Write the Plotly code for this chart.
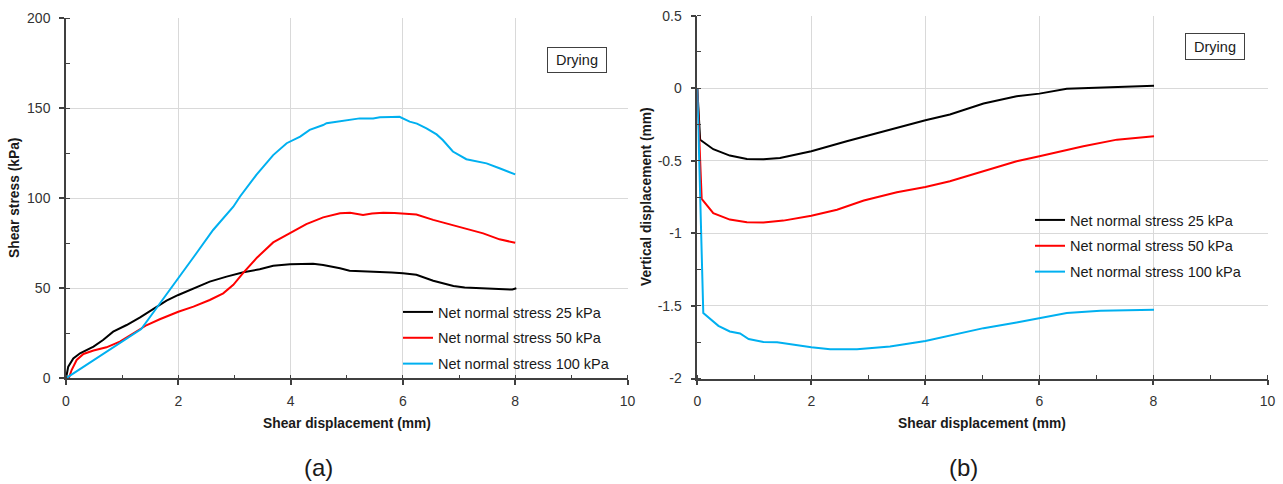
import plotly.graph_objects as go

# ---- panel (a): shear stress vs shear displacement ----
disp_a_25 = [0, 0.04, 0.13, 0.25, 0.49, 0.66, 0.84, 1.08, 1.32, 1.55, 1.79, 2.0, 2.27, 2.56,
             2.86, 3.16, 3.45, 3.69, 3.99, 4.23, 4.4, 4.58, 4.76, 4.88, 5.05, 5.3, 5.53, 5.8,
             6.0, 6.24, 6.54, 6.9, 7.1, 7.43, 7.7, 7.95, 8.02]
stress_25 = [0, 6.5, 11, 13.9, 17.6, 21.3, 25.9, 29.6, 33.9, 38.3, 43.1, 46.3, 50, 53.7,
             56.5, 58.9, 60.6, 62.5, 63.3, 63.7, 63.6, 63, 62, 61.1, 59.8, 59.5, 59.4, 58.8,
             58.3, 57.5, 54.2, 51.3, 50.4, 50, 49.7, 49.3, 50]

disp_a_50 = [0.05, 0.1, 0.19, 0.31, 0.49, 0.72, 0.96, 1.2, 1.44, 1.67, 2.0, 2.27, 2.56, 2.8,
             2.98, 3.16, 3.4, 3.69, 3.99, 4.28, 4.58, 4.88, 5.06, 5.29, 5.45, 5.65, 5.85,
             6.0, 6.24, 6.54, 6.96, 7.2, 7.43, 7.72, 8.0]
stress_50 = [0, 4.6, 10.2, 13.5, 15.4, 17.2, 20.4, 25.0, 29.6, 32.8, 37, 39.8, 43.5, 47.2,
             51.9, 58.7, 67.0, 75.5, 80.8, 85.7, 89.4, 91.7, 92, 90.7, 91.5, 92, 91.8,
             91.5, 91, 88, 84.6, 82.5, 80.5, 77.2, 75.3]

disp_a_100 = [0, 1.34, 1.6, 2.0, 2.3, 2.62, 2.98, 3.1, 3.39, 3.69, 3.93, 4.17, 4.34, 4.58,
              4.64, 4.76, 5.0, 5.23, 5.47, 5.59, 5.8, 5.94, 6.12, 6.25, 6.42, 6.6, 6.71,
              6.89, 7.13, 7.49, 7.72, 7.9, 8.0]
stress_100 = [0, 27.4, 38.5, 56, 68.5, 82.4, 95.3, 101, 113, 124, 130.6, 134.3, 138, 140.7,
              141.7, 142.3, 143.5, 144.4, 144.4, 145, 145.2, 145.3, 142.6, 141.5, 138.9,
              135.5, 132.4, 126, 121.7, 119.4, 116.7, 114.5, 113.3]

# ---- panel (b): vertical displacement vs shear displacement ----
disp_b_25 = [0, 0.05, 0.28, 0.57, 0.87, 1.16, 1.45, 2.0, 2.62, 3.2, 4.0, 4.43, 4.78, 5.02,
             5.6, 6.0, 6.48, 7.07, 7.5, 8.01]
vert_25 = [0, -0.355, -0.42, -0.464, -0.487, -0.49, -0.48, -0.434, -0.365, -0.303, -0.22,
           -0.181, -0.135, -0.105, -0.055, -0.037, -0.004, 0.005, 0.008, 0.017]

disp_b_50 = [0, 0.077, 0.28, 0.57, 0.87, 1.16, 1.51, 2.0, 2.45, 2.92, 3.5, 4.0, 4.43, 4.78,
             5.02, 5.6, 6.0, 6.77, 7.36, 8.01]
vert_50 = [0, -0.763, -0.86, -0.905, -0.923, -0.925, -0.912, -0.878, -0.837, -0.774, -0.717,
           -0.68, -0.641, -0.6, -0.572, -0.503, -0.469, -0.4, -0.354, -0.331]

disp_b_100 = [0, 0.105, 0.37, 0.57, 0.75, 0.9, 1.16, 1.4, 2.0, 2.33, 2.8, 3.38, 4.0, 4.43,
              5.02, 5.6, 6.0, 6.48, 7.07, 8.01]
vert_100 = [0, -1.549, -1.637, -1.676, -1.69, -1.728, -1.749, -1.75, -1.784, -1.798, -1.798,
            -1.78, -1.741, -1.706, -1.653, -1.614, -1.584, -1.549, -1.533, -1.526]

series_names = ["Net normal stress 25 kPa", "Net normal stress 50 kPa", "Net normal stress 100 kPa"]
series_colors = ["#000000", "#ff0000", "#00b0f0"]

x_ticks = [0, 2, 4, 6, 8, 10]
y_ticks_a = [0, 50, 100, 150, 200]
y_ticks_b = [-2, -1.5, -1, -0.5, 0, 0.5]
y_ticklabels_b = ["-2", "-1.5", "-1", "-0.5", "0", "0.5"]

W, H = 1283, 484
FONT = "Liberation Sans, Arial, sans-serif"
AXIS_COLOR = "#404040"
GRID_COLOR = "#d9d9d9"


def px_x(p):
    return p / W


def px_y(p):
    return 1 - p / H


fig = go.Figure()

panel_a = [(disp_a_25, stress_25), (disp_a_50, stress_50), (disp_a_100, stress_100)]
panel_b = [(disp_b_25, vert_25), (disp_b_50, vert_50), (disp_b_100, vert_100)]

for i, ((xs, ys), name, color) in enumerate(zip(panel_a, series_names, series_colors)):
    fig.add_trace(go.Scatter(x=xs, y=ys, mode="lines", name=name,
                             line=dict(color=color, width=2),
                             xaxis="x", yaxis="y", legend="legend",
                             legendgroup=f"a{i}"))

for i, ((xs, ys), name, color) in enumerate(zip(panel_b, series_names, series_colors)):
    fig.add_trace(go.Scatter(x=xs, y=ys, mode="lines", name=name,
                             line=dict(color=color, width=2),
                             xaxis="x2", yaxis="y2", legend="legend2",
                             legendgroup=f"b{i}"))

common_axis = dict(
    automargin=False,
    showline=True, linecolor=AXIS_COLOR, linewidth=1.5,
    showgrid=True, gridcolor=GRID_COLOR, gridwidth=1,
    zeroline=False,
    ticks="outside", ticklen=5, tickwidth=1.5, tickcolor=AXIS_COLOR,
    tickfont=dict(family=FONT, size=14, color="#333333"),
    fixedrange=True,
)

x_common = dict(common_axis, range=[0, 10], tickvals=x_ticks, ticklabelstandoff=4,
                minor=dict(dtick=1, ticks="inside", ticklen=4, tickwidth=1,
                           tickcolor=AXIS_COLOR, showgrid=False))

legend_common = dict(xanchor="left", yanchor="top",
                     bgcolor="rgba(0,0,0,0)", borderwidth=0,
                     font=dict(family=FONT, size=14.5, color="#1a1a1a"),
                     itemwidth=30, tracegroupgap=4, traceorder="grouped")

fig.update_layout(
    template="none",
    width=W, height=H,
    margin=dict(l=0, r=0, t=0, b=0, autoexpand=False),
    paper_bgcolor="white", plot_bgcolor="white",
    font=dict(family=FONT, color="#1a1a1a"),
    xaxis=dict(x_common, domain=[px_x(66), px_x(627.5)], anchor="y"),
    yaxis=dict(common_axis, domain=[px_y(378.3), px_y(18.3)], anchor="x",
               range=[0, 200], tickvals=y_ticks_a, ticklabelstandoff=6,
               minor=dict(dtick=25, ticks="inside", ticklen=4, tickwidth=1,
                          tickcolor=AXIS_COLOR, showgrid=False)),
    xaxis2=dict(x_common, domain=[px_x(697.3), px_x(1267.5)], anchor="y2"),
    yaxis2=dict(common_axis, domain=[px_y(378.5), px_y(15.7)], anchor="x2",
                range=[-2, 0.5], tickvals=y_ticks_b, ticktext=y_ticklabels_b,
                ticklabelstandoff=6,
                minor=dict(dtick=0.25, ticks="inside", ticklen=4, tickwidth=1,
                           tickcolor=AXIS_COLOR, showgrid=False)),
    legend=dict(legend_common, x=px_x(398), y=px_y(296)),
    legend2=dict(legend_common, x=px_x(1030), y=px_y(204)),
    showlegend=True,
)

title_font = dict(family=FONT, size=13.8, color="#1a1a1a")
annotations = [
    # axis titles
    dict(text="<b>Shear stress (kPa)</b>", x=px_x(14), y=px_y(198), textangle=-90,
         font=title_font),
    dict(text="<b>Shear displacement (mm)</b>", x=px_x(347), y=px_y(423), font=title_font),
    dict(text="<b>Vertical displacement (mm)</b>", x=px_x(647), y=px_y(197), textangle=-90,
         font=title_font),
    dict(text="<b>Shear displacement (mm)</b>", x=px_x(982), y=px_y(423), font=title_font),
    # condition labels
    dict(text="Drying", x=px_x(576.7), y=px_y(59.7), width=58, height=24,
         bordercolor=AXIS_COLOR, borderwidth=1, borderpad=0, bgcolor="white",
         font=dict(family=FONT, size=14.5, color="#1a1a1a")),
    dict(text="Drying", x=px_x(1215), y=px_y(46.7), width=58, height=25,
         bordercolor=AXIS_COLOR, borderwidth=1, borderpad=0, bgcolor="white",
         font=dict(family=FONT, size=14.5, color="#1a1a1a")),
    # panel captions
    dict(text="(a)", x=px_x(318.5), y=px_y(467), font=dict(family=FONT, size=24, color="#1a1a1a")),
    dict(text="(b)", x=px_x(963.5), y=px_y(467), font=dict(family=FONT, size=24, color="#1a1a1a")),
]
for a in annotations:
    a.update(xref="paper", yref="paper", showarrow=False, xanchor="center", yanchor="middle")
fig.update_layout(annotations=annotations)

fig.write_html("out.html")
